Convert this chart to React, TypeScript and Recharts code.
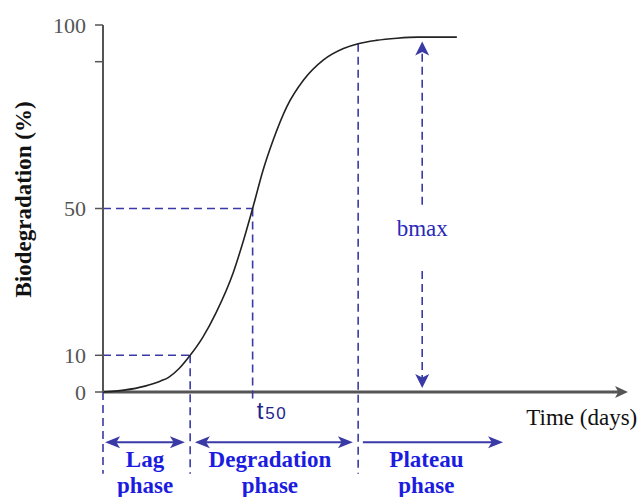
import React from "react";
import { ComposedChart, Line, XAxis, YAxis, ReferenceLine, ReferenceDot } from "recharts";

// ---- data ----
const time = [0, 4, 8, 11, 12.5, 14.5, 16.6, 19.0, 21.5, 24.8, 26.8, 28.5, 30.5, 32.4, 35.0, 38.2, 42.0, 45.8, 48.6, 52, 56, 60, 67.4];
const biodegradation = [0, 0.5, 1.6, 3.0, 4.0, 6.4, 10.0, 14.9, 21.5, 32.5, 41.5, 50, 60.5, 68.6, 77.7, 85.0, 90.5, 93.6, 94.9, 95.8, 96.4, 96.7, 96.7];

const yTicks = [0, 10, 50, 90, 100];
const yTickLabels = ["0", "10", "50", "", "100"];

const phaseNames = ["Lag", "Degradation", "Plateau"];
const phaseWord = "phase";
const phaseStart = [0.4, 17.5, 49.5];
const phaseEnd = [15.6, 47.6, 76.2];
const phaseBothHeads = [true, true, false];
const phaseLabelX = [8.0, 31.8, 61.6];

const lagEnd = 16.6;
const lagLevel = 10;
const t50 = 28.5;
const halfLevel = 50;
const plateauStart = 48.6;
const plateauLevel = 94.9;
const bmaxX = 60.8;
const bmaxTop = 95.5;
const bmaxBottom = 1.1;
const bmaxGapTop = 51;
const bmaxGapBottom = 33;
const bmaxLabelY = 42.5;
const guideBottom = -22.3;
const t50Bottom = -2.8;
const t50LabelY = -7.3;
const phaseArrowY = -13.7;
const phaseLine1Y = -20.4;
const phaseLine2Y = -27.5;
const xAxisEnd = 100;
const xLabelX = 91.2;
const xLabelY = -9.0;

const data = time.map((t, i) => ({ time: t, value: biodegradation[i] }));

const SERIF = "'Liberation Serif', 'Times New Roman', serif";
const SANS = "'Liberation Sans', Arial, sans-serif";
const GUIDE = "#3a3aa6";
const PHASE_TXT = "#1c1ce0";

type ArrowOpts = {
  color: string;
  width: number;
  dash?: string;
  start?: boolean;
  end?: boolean;
  headLen?: number;
  headW?: number;
};

const makeArrow = (o: ArrowOpts) => (p: any) => {
  const { x1, y1, x2, y2 } = p;
  const dx = x2 - x1;
  const dy = y2 - y1;
  const len = Math.hypot(dx, dy) || 1;
  const ux = dx / len;
  const uy = dy / len;
  const px = -uy;
  const py = ux;
  const L = o.headLen ?? 14;
  const W = o.headW ?? 12;
  const head = (tx: number, ty: number, dirx: number, diry: number) => {
    const bx = tx - dirx * L;
    const by = ty - diry * L;
    const nx = bx + dirx * L * 0.25;
    const ny = by + diry * L * 0.25;
    return `${tx},${ty} ${bx + px * W / 2},${by + py * W / 2} ${nx},${ny} ${bx - px * W / 2},${by - py * W / 2}`;
  };
  const sx = o.start ? x1 + ux * L * 0.6 : x1;
  const sy = o.start ? y1 + uy * L * 0.6 : y1;
  const ex = o.end ? x2 - ux * L * 0.6 : x2;
  const ey = o.end ? y2 - uy * L * 0.6 : y2;
  return (
    <g>
      <line x1={sx} y1={sy} x2={ex} y2={ey} stroke={o.color} strokeWidth={o.width} strokeDasharray={o.dash} />
      {o.start && <polygon points={head(x1, y1, -ux, -uy)} fill={o.color} />}
      {o.end && <polygon points={head(x2, y2, ux, uy)} fill={o.color} />}
    </g>
  );
};

const dashed = makeArrow({ color: GUIDE, width: 1.6, dash: "8 5" });

const makeText = (label: string, opts: { size: number; color: string; weight?: string; family?: string; anchor?: string }) =>
  (p: any) => (
    <text
      x={p.cx}
      y={p.cy}
      fontSize={opts.size}
      fill={opts.color}
      fontWeight={opts.weight ?? "normal"}
      fontFamily={opts.family ?? SERIF}
      textAnchor={opts.anchor ?? "middle"}
    >
      {label}
    </text>
  );

const t50Shape = (p: any) => (
  <text x={p.cx + 4} y={p.cy} fill="#24248c" fontFamily={SANS}>
    <tspan fontSize={24}>t</tspan>
    <tspan fontSize={17} dx={2} letterSpacing={1.5}>50</tspan>
  </text>
);

const YLabel = (props: any) => {
  const vb = props.viewBox || {};
  const cx = vb.x - 20;
  const cy = vb.y + vb.height / 2 - 9;
  return (
    <text
      x={cx}
      y={cy}
      transform={`rotate(-90, ${cx}, ${cy})`}
      textAnchor="middle"
      dominantBaseline="central"
      fontFamily={SERIF}
      fontWeight="bold"
      fontSize={23}
      fill="#111"
    >
      Biodegradation (%)
    </text>
  );
};

export default function App() {
  return (
    <div style={{ position: "absolute", left: 0, top: 0, width: 642, height: 497, background: "#fff" }}>
      <ComposedChart width={642} height={497} data={data} margin={{ top: 25, right: 14, bottom: 105, left: 43 }}>
        <XAxis dataKey="time" type="number" domain={[0, 100]} hide />
        <YAxis
          type="number"
          domain={[0, 100]}
          ticks={yTicks}
          tickFormatter={(v: number) => yTickLabels[yTicks.indexOf(v)] ?? ""}
          width={60}
          tickSize={8}
          tickMargin={9}
          axisLine={{ stroke: "#555", strokeWidth: 2 }}
          tickLine={{ stroke: "#555", strokeWidth: 1.5 }}
          tick={{ fill: "#555", fontSize: 22, fontFamily: SERIF }}
          interval={0}
          label={{ content: (p: any) => <YLabel {...p} /> }}
        />

        {/* x axis with arrow */}
        <ReferenceLine
          segment={[{ x: 0, y: 0 }, { x: xAxisEnd, y: 0 }]}
          ifOverflow="visible"
          shape={makeArrow({ color: "#555", width: 3, end: true, headLen: 13, headW: 12 })}
        />

        {/* guide lines */}
        <ReferenceLine segment={[{ x: 0, y: halfLevel }, { x: t50, y: halfLevel }]} ifOverflow="visible" shape={dashed} />
        <ReferenceLine segment={[{ x: 0, y: lagLevel }, { x: lagEnd, y: lagLevel }]} ifOverflow="visible" shape={dashed} />
        <ReferenceLine segment={[{ x: 0, y: 0 }, { x: 0, y: guideBottom }]} ifOverflow="visible" shape={dashed} />
        <ReferenceLine segment={[{ x: lagEnd, y: lagLevel }, { x: lagEnd, y: guideBottom }]} ifOverflow="visible" shape={dashed} />
        <ReferenceLine segment={[{ x: t50, y: halfLevel }, { x: t50, y: t50Bottom }]} ifOverflow="visible" shape={dashed} />
        <ReferenceLine segment={[{ x: plateauStart, y: plateauLevel }, { x: plateauStart, y: guideBottom }]} ifOverflow="visible" shape={dashed} />

        {/* bmax arrow */}
        <ReferenceLine
          segment={[{ x: bmaxX, y: bmaxGapTop }, { x: bmaxX, y: bmaxTop }]}
          ifOverflow="visible"
          shape={makeArrow({ color: GUIDE, width: 1.6, dash: "8 5", end: true, headLen: 14, headW: 14 })}
        />
        <ReferenceLine
          segment={[{ x: bmaxX, y: bmaxGapBottom }, { x: bmaxX, y: bmaxBottom }]}
          ifOverflow="visible"
          shape={makeArrow({ color: GUIDE, width: 1.6, dash: "8 5", end: true, headLen: 14, headW: 14 })}
        />
        <ReferenceDot x={bmaxX} y={bmaxLabelY} r={0} ifOverflow="visible" shape={makeText("bmax", { size: 23, color: "#2a2ab8" })} />

        {/* t50 label */}
        <ReferenceDot x={t50} y={t50LabelY} r={0} ifOverflow="visible" shape={t50Shape} />

        {/* phase arrows and labels */}
        {phaseNames.map((name, i) => (
          <ReferenceLine
            key={"pa" + i}
            segment={[{ x: phaseStart[i], y: phaseArrowY }, { x: phaseEnd[i], y: phaseArrowY }]}
            ifOverflow="visible"
            shape={makeArrow({ color: GUIDE, width: 2, start: phaseBothHeads[i], end: true, headLen: 15, headW: 12 })}
          />
        ))}
        {phaseNames.map((name, i) => (
          <ReferenceDot
            key={"pl1" + i}
            x={phaseLabelX[i]}
            y={phaseLine1Y}
            r={0}
            ifOverflow="visible"
            shape={makeText(name, { size: 23, color: PHASE_TXT, weight: "bold" })}
          />
        ))}
        {phaseNames.map((name, i) => (
          <ReferenceDot
            key={"pl2" + i}
            x={phaseLabelX[i]}
            y={phaseLine2Y}
            r={0}
            ifOverflow="visible"
            shape={makeText(phaseWord, { size: 23, color: PHASE_TXT, weight: "bold" })}
          />
        ))}

        {/* x axis title */}
        <ReferenceDot x={xLabelX} y={xLabelY} r={0} ifOverflow="visible" shape={makeText("Time (days)", { size: 23, color: "#111" })} />

        <Line
          type="monotone"
          dataKey="value"
          stroke="#222"
          strokeWidth={1.6}
          dot={false}
          isAnimationActive={false}
        />
      </ComposedChart>
    </div>
  );
}
